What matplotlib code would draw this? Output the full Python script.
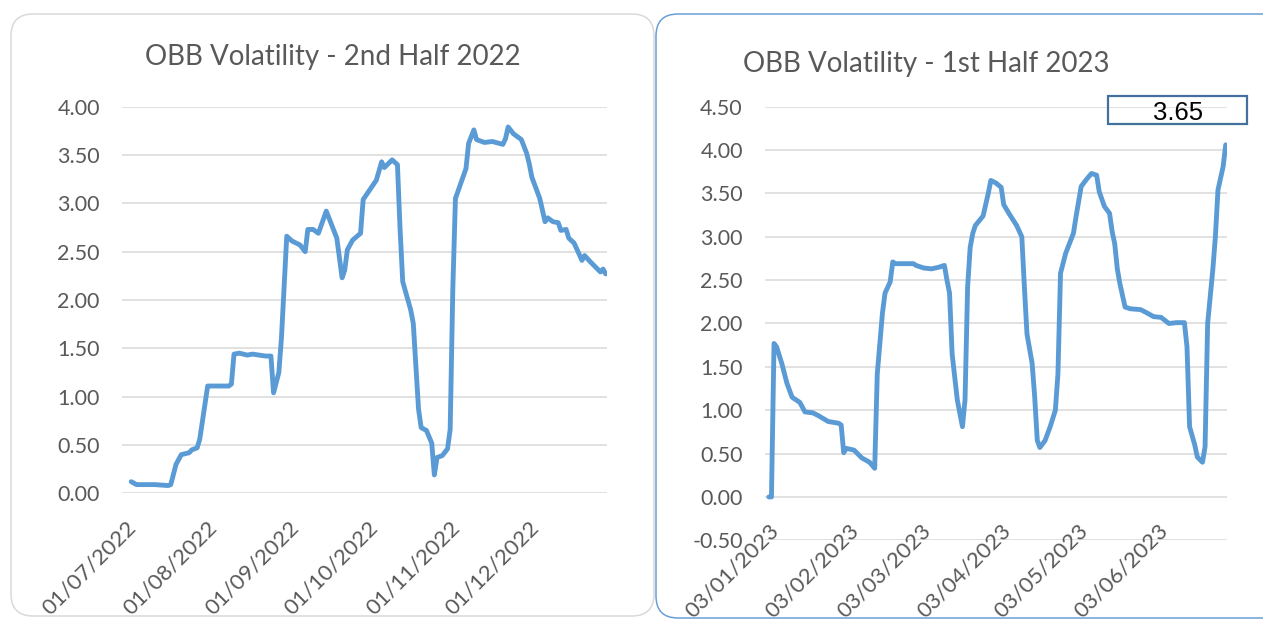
import pandas as pd
import matplotlib
matplotlib.use("Agg")
import matplotlib.pyplot as plt
from matplotlib.patches import FancyBboxPatch, Rectangle

plt.rcParams['font.family'] = ['Lato', 'DejaVu Sans']

# Datos - segundo semestre 2022
fechas_2022 = ["2022-07-04", "2022-07-06", "2022-07-13", "2022-07-18", "2022-07-19", "2022-07-21",
               "2022-07-23", "2022-07-26", "2022-07-27", "2022-07-29", "2022-07-30", "2022-08-02",
               "2022-08-10", "2022-08-11", "2022-08-12", "2022-08-14", "2022-08-17", "2022-08-19",
               "2022-08-24", "2022-08-26", "2022-08-27", "2022-08-29", "2022-08-30", "2022-09-01",
               "2022-09-03", "2022-09-06", "2022-09-08", "2022-09-09", "2022-09-11", "2022-09-13",
               "2022-09-16", "2022-09-18", "2022-09-20", "2022-09-22", "2022-09-23", "2022-09-24",
               "2022-09-26", "2022-09-29", "2022-09-30", "2022-10-02", "2022-10-05", "2022-10-07",
               "2022-10-08", "2022-10-11", "2022-10-13", "2022-10-14", "2022-10-15", "2022-10-18",
               "2022-10-19", "2022-10-21", "2022-10-22", "2022-10-24", "2022-10-26", "2022-10-27",
               "2022-10-28", "2022-10-30", "2022-11-01", "2022-11-02", "2022-11-03", "2022-11-04",
               "2022-11-08", "2022-11-09", "2022-11-11", "2022-11-12", "2022-11-15", "2022-11-18",
               "2022-11-22", "2022-11-23", "2022-11-24", "2022-11-26", "2022-11-29", "2022-12-01",
               "2022-12-02", "2022-12-03", "2022-12-06", "2022-12-08", "2022-12-09", "2022-12-11",
               "2022-12-13", "2022-12-14", "2022-12-16", "2022-12-17", "2022-12-19", "2022-12-22",
               "2022-12-23", "2022-12-25", "2022-12-29", "2022-12-30", "2022-12-31"]
vol_2022 = [0.12, 0.09, 0.09, 0.08, 0.09, 0.30,
            0.40, 0.42, 0.45, 0.47, 0.56, 1.11,
            1.11, 1.13, 1.44, 1.45, 1.43, 1.44,
            1.42, 1.42, 1.04, 1.25, 1.61, 2.66,
            2.61, 2.57, 2.50, 2.73, 2.73, 2.69,
            2.92, 2.78, 2.64, 2.23, 2.31, 2.52,
            2.62, 2.69, 3.04, 3.12, 3.24, 3.43,
            3.37, 3.45, 3.40, 2.73, 2.19, 1.90,
            1.76, 0.87, 0.68, 0.65, 0.52, 0.19,
            0.37, 0.39, 0.46, 0.66, 2.11, 3.05,
            3.36, 3.62, 3.76, 3.66, 3.63, 3.64,
            3.61, 3.67, 3.79, 3.72, 3.66, 3.52,
            3.41, 3.27, 3.05, 2.81, 2.85, 2.81,
            2.80, 2.72, 2.73, 2.64, 2.59, 2.41,
            2.46, 2.40, 2.29, 2.32, 2.27]

# Datos - primer semestre 2023
fechas_2023 = ["2023-01-04", "2023-01-05", "2023-01-06", "2023-01-07", "2023-01-09", "2023-01-11",
               "2023-01-13", "2023-01-16", "2023-01-18", "2023-01-21", "2023-01-23", "2023-01-27",
               "2023-01-31", "2023-02-01", "2023-02-02", "2023-02-03", "2023-02-06", "2023-02-09",
               "2023-02-12", "2023-02-14", "2023-02-15", "2023-02-17", "2023-02-18", "2023-02-20",
               "2023-02-21", "2023-02-22", "2023-03-01", "2023-03-02", "2023-03-05", "2023-03-08",
               "2023-03-11", "2023-03-13", "2023-03-14", "2023-03-15", "2023-03-16", "2023-03-18",
               "2023-03-20", "2023-03-21", "2023-03-22", "2023-03-23", "2023-03-24", "2023-03-25",
               "2023-03-28", "2023-03-30", "2023-03-31", "2023-04-02", "2023-04-04", "2023-04-05",
               "2023-04-07", "2023-04-10", "2023-04-12", "2023-04-13", "2023-04-14", "2023-04-15",
               "2023-04-16", "2023-04-17", "2023-04-18", "2023-04-19", "2023-04-21", "2023-04-23",
               "2023-04-25", "2023-04-26", "2023-04-27", "2023-04-29", "2023-05-02", "2023-05-03",
               "2023-05-05", "2023-05-07", "2023-05-09", "2023-05-11", "2023-05-12", "2023-05-14",
               "2023-05-16", "2023-05-17", "2023-05-18", "2023-05-19", "2023-05-20", "2023-05-22",
               "2023-05-24", "2023-05-28", "2023-05-30", "2023-06-02", "2023-06-05", "2023-06-08",
               "2023-06-11", "2023-06-14", "2023-06-15", "2023-06-16", "2023-06-18", "2023-06-19",
               "2023-06-21", "2023-06-22", "2023-06-23", "2023-06-25", "2023-06-26", "2023-06-27",
               "2023-06-29", "2023-06-30"]
vol_2023 = [0.00, 0.00, 1.77, 1.73, 1.54, 1.31,
            1.15, 1.09, 0.98, 0.97, 0.94, 0.87,
            0.85, 0.83, 0.51, 0.56, 0.54, 0.45,
            0.40, 0.33, 1.42, 2.12, 2.35, 2.48,
            2.71, 2.69, 2.69, 2.67, 2.64, 2.63,
            2.65, 2.67, 2.50, 2.35, 1.65, 1.12,
            0.81, 1.12, 2.42, 2.88, 3.04, 3.13,
            3.24, 3.50, 3.65, 3.62, 3.57, 3.37,
            3.27, 3.13, 3.00, 2.42, 1.88, 1.71,
            1.54, 1.15, 0.65, 0.57, 0.65, 0.81,
            1.00, 1.42, 2.58, 2.81, 3.04, 3.23,
            3.58, 3.66, 3.73, 3.71, 3.52, 3.35,
            3.27, 3.06, 2.92, 2.63, 2.46, 2.19,
            2.17, 2.16, 2.13, 2.08, 2.07, 2.00,
            2.01, 2.01, 1.73, 0.81, 0.60, 0.46,
            0.40, 0.58, 2.00, 2.62, 3.00, 3.54,
            3.81, 4.06]

ticks_2022 = ["2022-07-01", "2022-08-01", "2022-09-01", "2022-10-01", "2022-11-01", "2022-12-01"]
ticks_2023 = ["2023-01-03", "2023-02-03", "2023-03-03", "2023-04-03", "2023-05-03", "2023-06-03"]
rango_2022 = ("2022-07-01", "2022-12-31")
rango_2023 = ("2023-01-03", "2023-06-30")
valor_caja = 3.65

azul = "#5B9BD5"
gris = "#595959"
grid_col = "#D9D9D9"

fig = plt.figure(figsize=(12.63, 6.23), dpi=100)

# Bordes de los paneles (en pulgadas)
fig.patches.append(FancyBboxPatch((0.11, 0.07), 6.43, 6.02, boxstyle="round,pad=0,rounding_size=0.22",
                                  transform=fig.dpi_scale_trans, facecolor="none",
                                  edgecolor="#D9D9D9", linewidth=1.1))
fig.patches.append(FancyBboxPatch((6.56, 0.05), 6.6, 6.04, boxstyle="round,pad=0,rounding_size=0.22",
                                  transform=fig.dpi_scale_trans, facecolor="none",
                                  edgecolor="#6A9FD6", linewidth=1.1))


def panel(ax, fechas, valores, ticks, rango, ymin, ymax):
    x = pd.to_datetime(fechas)
    ax.plot(x, valores, color=azul, linewidth=3.5, solid_capstyle="round", solid_joinstyle="round",
            zorder=3)
    medio_dia = pd.Timedelta(hours=12)
    ax.set_xlim(pd.Timestamp(rango[0]) - medio_dia, pd.Timestamp(rango[1]) + medio_dia)
    ax.set_ylim(ymin, ymax)
    yt = [ymin + 0.5 * i for i in range(int(round((ymax - ymin) / 0.5)) + 1)]
    ax.set_yticks(yt)
    ax.set_yticklabels([f"{v:.2f}" for v in yt], fontsize=15.5, color=gris)
    for v in yt:
        ax.axhline(v, color=grid_col, linewidth=1.1, zorder=1)
    ax.tick_params(axis="y", length=0, pad=16)
    ax.set_xticks([])
    for s in ax.spines.values():
        s.set_visible(False)
    # Etiquetas de fecha bajo la linea del cero
    for t in ticks:
        ax.annotate(pd.Timestamp(t).strftime("%d/%m/%Y"), xy=(pd.Timestamp(t), 0),
                    xycoords="data", xytext=(1.5, -17), textcoords="offset points",
                    rotation=45, ha="right", va="top", rotation_mode="anchor",
                    fontsize=16, color=gris, annotation_clip=False)


ax1 = fig.add_axes([122 / 1263, 1 - 493.3 / 623, 485 / 1263, 386.6 / 623])
panel(ax1, fechas_2022, vol_2022, ticks_2022, rango_2022, 0.0, 4.0)

ax2 = fig.add_axes([765 / 1263, 1 - 540.3 / 623, 462 / 1263, 433.6 / 623])
panel(ax2, fechas_2023, vol_2023, ticks_2023, rango_2023, -0.5, 4.5)

fig.text(333 / 1263, 1 - 65 / 623, "OBB Volatility - 2nd Half 2022", ha="center", va="baseline",
         fontsize=20, color=gris)
fig.text(926.5 / 1263, 1 - 71.7 / 623, "OBB Volatility - 1st Half 2023", ha="center", va="baseline",
         fontsize=20, color=gris)

# Caja con el valor
fig.patches.append(Rectangle((1108 / 1263, 1 - 123.5 / 623), 139 / 1263, 27.5 / 623,
                             transform=fig.transFigure, facecolor="none", edgecolor="#41719C",
                             linewidth=1.6))
fig.text(1178 / 1263, 1 - 119.5 / 623, f"{valor_caja:.2f}", ha="center", va="baseline",
         fontsize=18.5, color="black", family="Liberation Sans")

fig.savefig("out.png", dpi=100)
